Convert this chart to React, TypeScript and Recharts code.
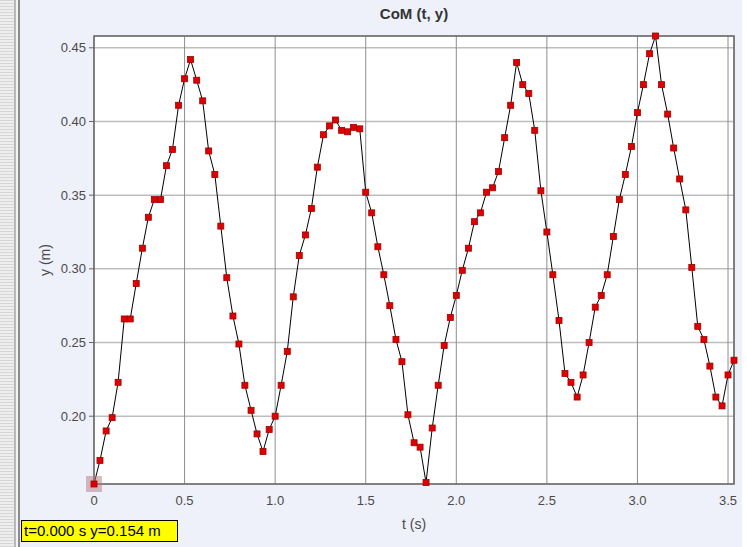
import { LineChart, Line, XAxis, YAxis, CartesianGrid, ReferenceArea } from "recharts";

// frame times (s), 30 fps video
const times = [
  0.0, 0.033, 0.067, 0.1, 0.133, 0.167, 0.2, 0.233, 0.267, 0.3,
  0.333, 0.367, 0.4, 0.433, 0.467, 0.5, 0.533, 0.567, 0.6, 0.633,
  0.667, 0.7, 0.733, 0.767, 0.8, 0.833, 0.867, 0.9, 0.933, 0.967,
  1.0, 1.033, 1.067, 1.1, 1.133, 1.167, 1.2, 1.233, 1.267, 1.3,
  1.333, 1.367, 1.4, 1.433, 1.467, 1.5, 1.533, 1.567, 1.6, 1.633,
  1.667, 1.7, 1.733, 1.767, 1.8, 1.833, 1.867, 1.9, 1.933, 1.967,
  2.0, 2.033, 2.067, 2.1, 2.133, 2.167, 2.2, 2.233, 2.267, 2.3,
  2.333, 2.367, 2.4, 2.433, 2.467, 2.5, 2.533, 2.567, 2.6, 2.633,
  2.667, 2.7, 2.733, 2.767, 2.8, 2.833, 2.867, 2.9, 2.933, 2.967,
  3.0, 3.033, 3.067, 3.1, 3.133, 3.167, 3.2, 3.233, 3.267, 3.3,
  3.333, 3.367, 3.4, 3.433, 3.467, 3.5, 3.533,
];

// CoM height (m)
const comY = [
  0.154, 0.17, 0.19, 0.199, 0.223, 0.266, 0.266, 0.29, 0.314, 0.335,
  0.347, 0.347, 0.37, 0.381, 0.411, 0.429, 0.442, 0.428, 0.414, 0.38,
  0.364, 0.329, 0.294, 0.268, 0.249, 0.221, 0.204, 0.188, 0.176, 0.191,
  0.2, 0.221, 0.244, 0.281, 0.309, 0.323, 0.341, 0.369, 0.391, 0.397,
  0.401, 0.394, 0.393, 0.396, 0.395, 0.352, 0.338, 0.315, 0.296, 0.275,
  0.252, 0.237, 0.201, 0.182, 0.179, 0.155, 0.192, 0.221, 0.248, 0.267,
  0.282, 0.299, 0.314, 0.332, 0.338, 0.352, 0.355, 0.366, 0.389, 0.411,
  0.44, 0.425, 0.419, 0.394, 0.353, 0.325, 0.296, 0.265, 0.229, 0.223,
  0.213, 0.228, 0.25, 0.274, 0.282, 0.296, 0.322, 0.347, 0.364, 0.383,
  0.406, 0.425, 0.446, 0.458, 0.425, 0.405, 0.382, 0.361, 0.34, 0.301,
  0.261, 0.252, 0.234, 0.213, 0.207, 0.228, 0.238,
];

const xTicks = [0, 0.5, 1.0, 1.5, 2.0, 2.5, 3.0, 3.5];
const yTicks = [0.2, 0.25, 0.3, 0.35, 0.4, 0.45];

const data = times.map((t, i) => ({ t, y: comY[i] }));

const font = "'Liberation Sans', Arial, sans-serif";
const tickStyle = { fontSize: 13, fill: "#4a4a4a", fontFamily: font };

const Marker = (props: any) => {
  const { cx, cy, index } = props;
  if (cx == null || cy == null) return <g key={index} />;
  return (
    <g key={index}>
      {index === 0 && (
        <rect x={cx - 8} y={cy - 8} width={16} height={16} fill="rgba(180,120,130,0.5)" />
      )}
      <rect x={cx - 3} y={cy - 3} width={6} height={6} fill="#dd0000" stroke="#a30000" strokeWidth={0.8} />
    </g>
  );
};

const App = () => (
  <div
    style={{
      position: "fixed",
      left: 0,
      top: 0,
      width: 747,
      height: 547,
      background: "#eef0fa",
      fontFamily: font,
      overflow: "hidden",
    }}
  >
    {/* splitter pane on the left */}
    <div
      style={{
        position: "absolute",
        left: 0,
        top: 0,
        width: 14,
        height: 547,
        background: "repeating-linear-gradient(0deg, #d6d6d6 0px, #d6d6d6 1px, #eeeeee 1px, #eeeeee 3px)",
      }}
    />
    <div style={{ position: "absolute", left: 14, top: 0, width: 2, height: 547, background: "#b8b8b8" }} />
    <div style={{ position: "absolute", left: 16, top: 0, width: 2, height: 547, background: "#f4f4f4" }} />
    <div style={{ position: "absolute", left: 18, top: 0, width: 2, height: 547, background: "#8c8c8c" }} />
    <div style={{ position: "absolute", left: 742, top: 0, width: 5, height: 547, background: "#ffffff" }} />

    <div
      style={{
        position: "absolute",
        left: 94,
        top: 5,
        width: 640,
        textAlign: "center",
        fontSize: 15,
        fontWeight: "bold",
        color: "#333",
      }}
    >
      CoM (t, y)
    </div>

    <div style={{ position: "absolute", left: 0, top: 0 }}>
      <LineChart width={747} height={547} data={data} margin={{ top: 36, right: 13, left: 0, bottom: 0 }}>
        <CartesianGrid fill="#ffffff" stroke="#bdbdbd" strokeWidth={1.5} vertical={false} />
        <CartesianGrid stroke="#8e8e8e" strokeWidth={1} horizontal={false} />
        <XAxis
          dataKey="t"
          type="number"
          domain={["dataMin", "dataMax"]}
          ticks={xTicks}
          interval={0}
          height={63}
          tick={tickStyle}
          tickLine={false}
          axisLine={false}
          tickMargin={6}
          tickFormatter={(v: number) => (v === 0 ? "0" : v.toFixed(1))}
          label={{ value: "t (s)", position: "insideBottom", offset: 18, style: { fontSize: 14, fill: "#4a4a4a", fontFamily: font } }}
        />
        <YAxis
          dataKey="y"
          type="number"
          domain={["dataMin", "dataMax"]}
          ticks={yTicks}
          interval={0}
          width={94}
          tick={tickStyle}
          tickSize={5}
          tickLine={{ stroke: "#666" }}
          axisLine={false}
          tickMargin={3}
          tickFormatter={(v: number) => v.toFixed(2)}
          label={{
            content: (p: any) => {
              const vb = p.viewBox || { x: 0, y: 36, width: 94, height: 448 };
              const cx = 45;
              const cy = vb.y + vb.height / 2;
              return (
                <text
                  x={cx}
                  y={cy}
                  transform={`rotate(-90, ${cx}, ${cy})`}
                  textAnchor="middle"
                  dominantBaseline="central"
                  fontSize={14}
                  fill="#4a4a4a"
                  fontFamily={font}
                >
                  y (m)
                </text>
              );
            },
          }}
        />
        <ReferenceArea
          x1={times[0]}
          x2={times[times.length - 1]}
          fill="none"
          stroke="#6a6a6a"
          strokeWidth={1.5}
          ifOverflow="visible"
        />
        <Line
          dataKey="y"
          type="linear"
          stroke="#000000"
          strokeWidth={1}
          dot={Marker}
          activeDot={false}
          isAnimationActive={false}
        />
      </LineChart>
    </div>

    <div
      style={{
        position: "absolute",
        left: 21,
        top: 520,
        width: 153,
        height: 20,
        background: "#ffff00",
        border: "1px solid #000",
        fontSize: 15,
        lineHeight: "20px",
        color: "#000",
        paddingLeft: 2,
        whiteSpace: "pre",
        overflow: "hidden",
      }}
    >
      {"t=0.000 s y=0.154 m"}
    </div>
  </div>
);

export default App;
